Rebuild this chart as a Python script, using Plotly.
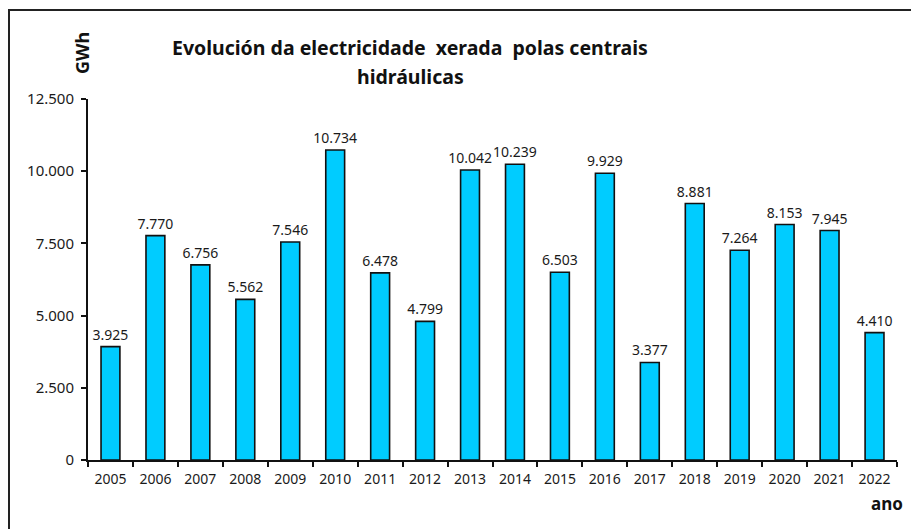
import plotly.graph_objects as go

years = ["2005", "2006", "2007", "2008", "2009", "2010", "2011", "2012", "2013",
         "2014", "2015", "2016", "2017", "2018", "2019", "2020", "2021", "2022"]
gwh = [3925, 7770, 6756, 5562, 7546, 10734, 6478, 4799, 10042,
       10239, 6503, 9929, 3377, 8881, 7264, 8153, 7945, 4410]
y_ticks = [0, 2500, 5000, 7500, 10000, 12500]

title_lines = ["Evolución da electricidade  xerada  polas centrais", "hidráulicas"]
y_title = "GWh"
x_title = "ano"

FONT = "Noto Sans"
W, H = 911, 529
ML, MR, MT, MB = 88, 14, 99, 69
PW, PH = W - ML - MR, H - MT - MB


def px_x(p):
    return (p - ML) / PW


def px_y(p):
    return 1 - (p - MT) / PH


fig = go.Figure()
fig.add_bar(
    x=years, y=gwh,
    marker=dict(color="#00CCFF", line=dict(color="#111111", width=1.6)),
    width=0.42,
    texttemplate="%{y:,d}",
    textposition="outside",
    constraintext="none",
    textfont=dict(family=FONT, size=14, color="#1a1a1a"),
    cliponaxis=False,
)

fig.update_layout(
    width=W, height=H,
    margin=dict(l=ML, r=MR, t=MT, b=MB),
    paper_bgcolor="white", plot_bgcolor="white",
    separators=",.",
    showlegend=False,
    font=dict(family=FONT, size=14, color="#1a1a1a"),
)
fig.update_xaxes(
    type="category", showline=True, linecolor="#111111", linewidth=2,
    ticks="outside", ticklen=5, tickcolor="#111111", tickwidth=1.5,
    tickson="boundaries", showgrid=False, ticklabelstandoff=5,
    tickfont=dict(family=FONT, size=14, color="#1a1a1a"),
)
fig.update_yaxes(
    range=[0, 12500], autorange=False, tickvals=y_ticks, tickformat=",d",
    showline=True, linecolor="#111111", linewidth=2,
    ticks="outside", ticklen=5, tickcolor="#111111", tickwidth=1.5,
    showgrid=False, zeroline=False, ticklabelstandoff=4,
    tickfont=dict(family=FONT, size=15, color="#1a1a1a"),
)

for line, cy in zip(title_lines, [47, 77]):
    fig.add_annotation(text=line, xref="paper", yref="paper",
                       x=px_x(410), y=px_y(cy), xanchor="center", yanchor="middle",
                       showarrow=False,
                       font=dict(family=FONT, size=19.5, color="#111111", weight="bold"))

fig.add_annotation(text=y_title, xref="paper", yref="paper",
                   x=px_x(82), y=px_y(53),
                   xanchor="center", yanchor="middle", textangle=-90,
                   showarrow=False,
                   font=dict(family=FONT, size=18, color="#111111", weight="bold"))
fig.add_annotation(text=x_title, xref="paper", yref="paper",
                   x=px_x(887), y=px_y(503),
                   xanchor="center", yanchor="middle",
                   showarrow=False,
                   font=dict(family=FONT, size=17, color="#111111", weight="bold"))

# outer chart border (extends past right and bottom edges as in the reference)
fig.add_shape(type="rect", xref="paper", yref="paper",
              x0=px_x(9), x1=px_x(W + 20),
              y0=px_y(H + 20), y1=px_y(10),
              line=dict(color="#222222", width=2), fillcolor="rgba(0,0,0,0)",
              layer="below")

fig.write_html("out.html", config={"displayModeBar": False},
               post_script="document.body.style.margin='0';document.body.style.overflow='hidden';")
